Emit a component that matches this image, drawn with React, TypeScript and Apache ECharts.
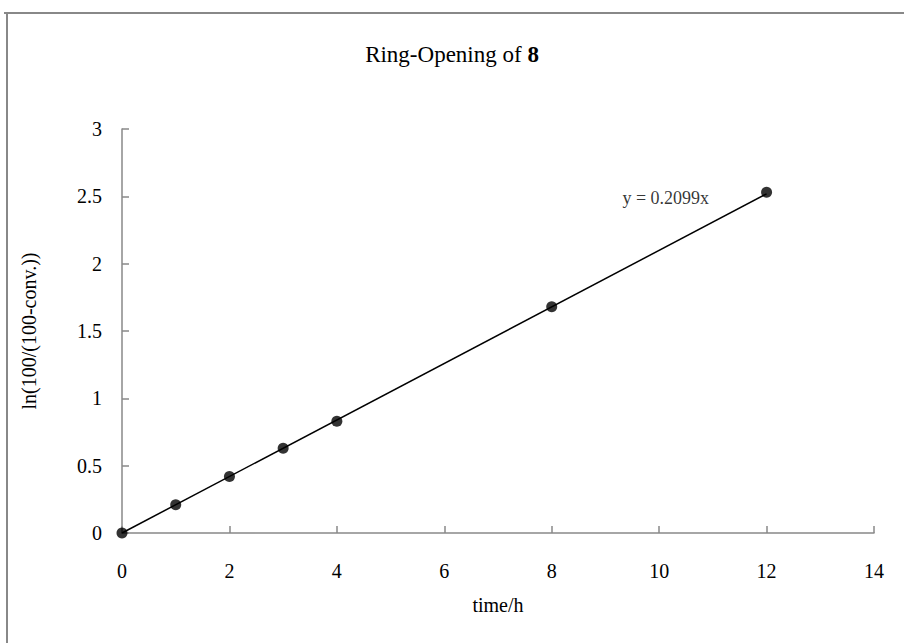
import React, { useEffect, useRef } from "react";
import * as echarts from "echarts";

const times = [0, 1, 2, 3, 4, 8, 12];
const lnValues = [0, 0.21, 0.42, 0.63, 0.83, 1.68, 2.53];
const slope = 0.2099;
const fitRange = [0, 12];
const equationText = "y = 0.2099x";
const titleMain = "Ring-Opening of ";
const titleBold = "8";
const xName = "time/h";
const yName = "ln(100/(100-conv.))";

const FONT = "'Liberation Serif', 'Times New Roman', serif";

export default function App() {
  const ref = useRef<HTMLDivElement>(null);
  useEffect(() => {
    document.body.style.margin = "0";
    document.body.style.overflow = "hidden";
    if (!ref.current) return;
    const chart = echarts.init(ref.current, null, { renderer: "svg" });
    const fitData = fitRange.map((x) => [x, slope * x]);
    const last = fitRange[fitRange.length - 1];
    chart.setOption({
      animation: false,
      backgroundColor: "#ffffff",
      title: {
        text: `{n|${titleMain}}{b|${titleBold}}`,
        left: "center",
        top: 38,
        textStyle: {
          rich: {
            n: { fontFamily: FONT, fontSize: 23, color: "#000", fontWeight: "normal" },
            b: { fontFamily: FONT, fontSize: 23, color: "#000", fontWeight: "bold" },
          },
        },
      },
      graphic: [
        {
          type: "line",
          shape: { x1: 4, y1: 13, x2: 904, y2: 13 },
          style: { stroke: "#888888", lineWidth: 2 },
          silent: true,
        },
        {
          type: "line",
          shape: { x1: 7, y1: 13, x2: 7, y2: 643 },
          style: { stroke: "#888888", lineWidth: 2 },
          silent: true,
        },
      ],
      grid: { left: 122, top: 129, right: 30, bottom: 110, containLabel: false },
      xAxis: {
        type: "value",
        min: 0,
        max: 14,
        interval: 2,
        name: xName,
        nameLocation: "middle",
        nameGap: 62,
        nameTextStyle: { fontFamily: FONT, fontSize: 20, color: "#000" },
        axisLine: { show: true, lineStyle: { color: "#888888", width: 1.5 } },
        axisTick: { show: true, inside: true, length: 7, lineStyle: { color: "#888888", width: 1.5 } },
        axisLabel: { fontFamily: FONT, fontSize: 20, color: "#000", margin: 28 },
        splitLine: { show: false },
      },
      yAxis: {
        type: "value",
        min: 0,
        max: 3,
        interval: 0.5,
        name: yName,
        nameLocation: "middle",
        nameGap: 83,
        nameRotate: 90,
        nameTextStyle: { fontFamily: FONT, fontSize: 20, color: "#000" },
        axisLine: { show: true, lineStyle: { color: "#888888", width: 1.5 } },
        axisTick: { show: true, inside: true, length: 7, lineStyle: { color: "#888888", width: 1.5 } },
        axisLabel: { fontFamily: FONT, fontSize: 20, color: "#000", margin: 20 },
        splitLine: { show: false },
      },
      series: [
        {
          type: "line",
          data: fitData,
          symbol: "none",
          lineStyle: { color: "#000", width: 1.5 },
          z: 2,
        },
        {
          type: "scatter",
          data: times.map((t, i) => [t, lnValues[i]]),
          symbol: "circle",
          symbolSize: 11,
          itemStyle: { color: "#000" },
          z: 3,
        },
        {
          type: "scatter",
          data: [[last, slope * last]],
          symbolSize: 1,
          itemStyle: { color: "rgba(0,0,0,0)" },
          silent: true,
          z: 4,
          label: {
            show: true,
            formatter: equationText,
            position: "left",
            distance: 57,
            offset: [0, 4],
            fontFamily: FONT,
            fontSize: 18,
            color: "#000",
          },
        },
      ],
    });
    return () => chart.dispose();
  }, []);
  return <div ref={ref} style={{ width: 904, height: 643 }} />;
}
